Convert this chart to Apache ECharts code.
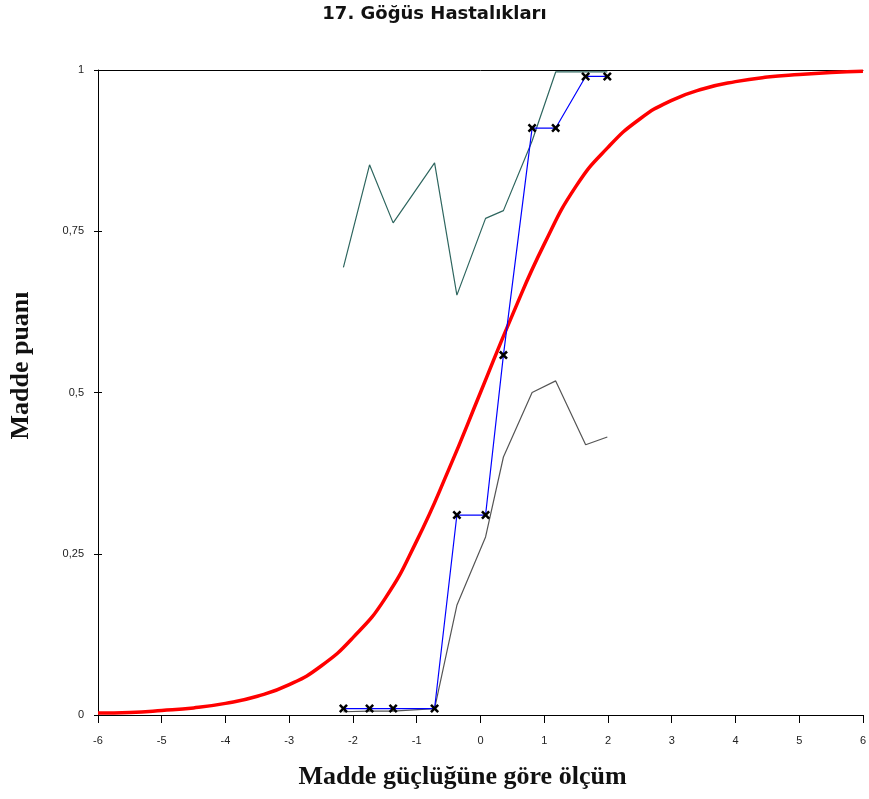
<!DOCTYPE html>
<html>
<head>
<meta charset="utf-8">
<script src="https://cdn.jsdelivr.net/npm/echarts@6/dist/echarts.min.js"></script>
<style>
  html, body { margin: 0; padding: 0; background: #fff; }
  #chart { width: 869px; height: 799px; }
</style>
</head>
<body>
<div id="chart"></div>
<script>
// Ability levels of the score groups (logits)
const groupX = [-2.15, -1.74, -1.37, -0.72, -0.37, 0.08, 0.36, 0.81, 1.18, 1.65, 1.99];
// Observed item scores per group
const observed = [0.01, 0.01, 0.01, 0.01, 0.31, 0.31, 0.558, 0.91, 0.91, 0.99, 0.99];
// Upper and lower confidence bands
const upperBand = [0.694, 0.853, 0.763, 0.856, 0.651, 0.770, 0.782, 0.89, 0.997, 0.997, 0.997];
const lowerBand = [0.005, 0.006, 0.006, 0.01, 0.17, 0.276, 0.40, 0.50, 0.518, 0.419, 0.431];
// Model (expected score) curve
const curveX = [-6, -5.5, -5, -4.5, -4, -3.5, -3, -2.5, -2, -1.5, -1, -0.5, 0, 0.5, 1, 1.5, 2, 2.5, 3, 3.5, 4, 4.5, 5, 5.5, 6];
const curveY = [0.003, 0.004, 0.007, 0.011, 0.018, 0.029, 0.047, 0.076, 0.12, 0.18, 0.27, 0.38, 0.5, 0.62, 0.73, 0.82, 0.88, 0.924, 0.953, 0.971, 0.982, 0.989, 0.993, 0.996, 0.998];
const yTicks = [0, 0.25, 0.5, 0.75, 1];

const pairs = (xs, ys) => xs.map((x, i) => [x, ys[i]]);
const crossMark = 'path://M0,2L2,0L5,3L8,0L10,2L7,5L10,8L8,10L5,7L2,10L0,8L3,5Z';
const labelFont = { fontFamily: 'Liberation Sans, Arial, sans-serif', fontSize: 11, color: '#222' };
const axisNameFont = { fontFamily: 'Liberation Serif, Times New Roman, serif', fontWeight: 'bold', fontSize: 26, color: '#111' };

const chart = echarts.init(document.getElementById('chart'));
chart.setOption({
  animation: false,
  backgroundColor: '#fff',
  title: {
    text: '17. Göğüs Hastalıkları',
    left: 'center', top: 0,
    textStyle: { fontFamily: 'DejaVu Sans, sans-serif', fontWeight: 'bold', fontSize: 18, color: '#111' }
  },
  grid: { left: 96, right: 2, top: 70, bottom: 84 },
  xAxis: [{
    type: 'value', min: -6, max: 6, interval: 1,
    name: 'Madde güçlüğüne göre ölçüm',
    nameLocation: 'middle', nameGap: 49,
    nameTextStyle: Object.assign({ padding: [0, 36, 0, 0] }, axisNameFont),
    axisLine: { onZero: false, lineStyle: { color: '#000', width: 1 } },
    axisTick: { show: true, length: 8, lineStyle: { color: '#000' } },
    axisLabel: Object.assign({ margin: 20 }, labelFont),
    splitLine: { show: false }
  }, {
    type: 'value', min: -6, max: 6, position: 'top',
    axisLine: { show: true, onZero: false, lineStyle: { color: '#000', width: 1 } },
    axisTick: { show: false }, axisLabel: { show: false }, splitLine: { show: false }
  }],
  yAxis: [{
    type: 'value', min: 0, max: 1, interval: 0.25,
    name: 'Madde puanı',
    nameLocation: 'middle', nameGap: 64, nameRotate: 90,
    nameTextStyle: Object.assign({ padding: [0, 0, 0, 54] }, axisNameFont),
    axisLine: { show: true, onZero: false, lineStyle: { color: '#000', width: 1 } },
    axisTick: { show: true, length: 4, lineStyle: { color: '#000' } },
    axisLabel: Object.assign({
      margin: 14,
      formatter: v => yTicks.includes(v) ? String(v).replace('.', ',') : ''
    }, labelFont),
    splitLine: { show: false }
  }, {
    type: 'value', min: 0, max: 1, interval: 0.25, position: 'left',
    axisLine: { show: false, onZero: false },
    axisTick: { show: true, inside: true, length: 4, lineStyle: { color: '#000' } },
    axisLabel: { show: false }, splitLine: { show: false }
  }],
  series: [{
    name: 'Üst sınır', type: 'line', data: pairs(groupX, upperBand),
    symbol: 'none', lineStyle: { color: '#2e665f', width: 1.2 }, z: 2
  }, {
    name: 'Alt sınır', type: 'line', data: pairs(groupX, lowerBand),
    symbol: 'none', lineStyle: { color: '#555', width: 1.2 }, z: 2
  }, {
    name: 'Beklenen', type: 'line', data: pairs(curveX, curveY),
    smooth: 0.5, symbol: 'none', lineStyle: { color: '#ff0000', width: 3.5 }, z: 3
  }, {
    name: 'Gözlenen', type: 'line', data: pairs(groupX, observed),
    symbol: crossMark, symbolSize: 9,
    itemStyle: { color: '#000' },
    lineStyle: { color: '#0000ff', width: 1.2 }, z: 4
  }]
});
</script>
</body>
</html>
